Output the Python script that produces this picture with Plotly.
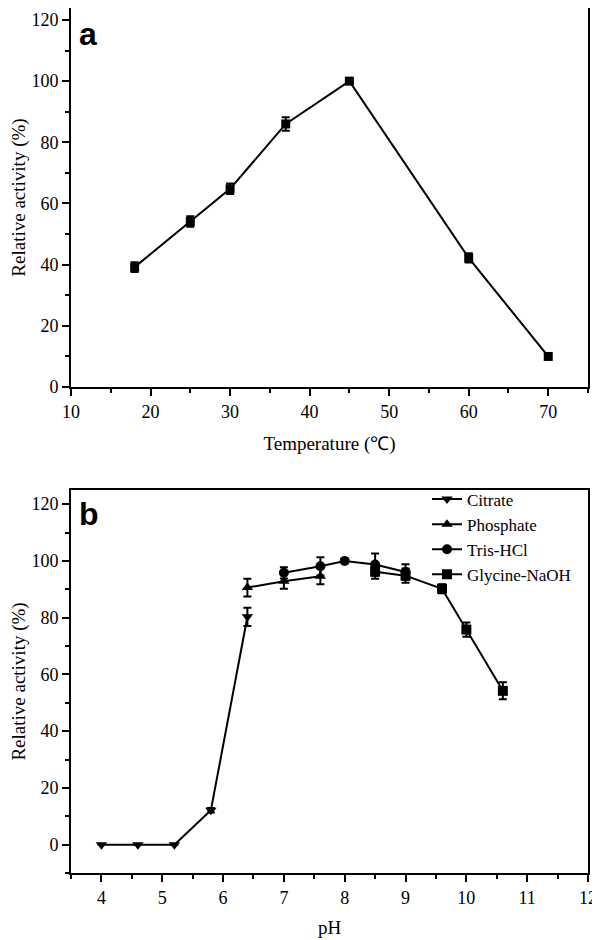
import plotly.graph_objects as go
from plotly.subplots import make_subplots

# panel a: temperature
temp_x = [18, 25, 30, 37, 45, 60, 70]
temp_y = [39.2, 54.1, 64.8, 86.0, 100.0, 42.2, 10.0]
temp_err = [1.6, 1.7, 1.7, 2.2, 0.5, 1.5, 0.6]

# panel b: pH, four buffers
citrate_x = [4, 4.6, 5.2, 5.8, 6.4]
citrate_y = [0, 0, 0, 12.1, 80.3]
citrate_err = [0, 0, 0, 0.8, 3.2]

phos_x = [6.4, 7, 7.6]
phos_y = [90.6, 92.8, 94.6]
phos_err = [3.1, 2.6, 2.8]

tris_x = [7, 7.6, 8, 8.5, 9]
tris_y = [95.8, 98.1, 100.0, 98.7, 96.1]
tris_err = [2.0, 3.2, 0.5, 3.9, 2.7]

gly_x = [8.5, 9, 9.6, 10, 10.6]
gly_y = [96.2, 94.8, 90.2, 75.8, 54.2]
gly_err = [2.5, 2.5, 1.6, 2.5, 3.0]

serif = "Liberation Serif"

# the page body adds an 8px margin, so the figure is a little smaller than the window
fig = make_subplots(rows=2, cols=1)

def err(vals):
    return dict(type="data", array=vals, visible=True, color="black", thickness=2, width=4)

fig.add_trace(go.Scatter(x=temp_x, y=temp_y, mode="lines+markers", error_y=err(temp_err),
                         line=dict(color="black", width=2),
                         marker=dict(symbol="square", size=9, color="black"),
                         showlegend=False), row=1, col=1)

series = [
    ("Citrate", citrate_x, citrate_y, citrate_err, "triangle-down"),
    ("Phosphate", phos_x, phos_y, phos_err, "triangle-up"),
    ("Tris-HCl", tris_x, tris_y, tris_err, "circle"),
    ("Glycine-NaOH", gly_x, gly_y, gly_err, "square"),
]
for name, xs, ys, es, sym in series:
    fig.add_trace(go.Scatter(x=xs, y=ys, mode="lines+markers", name=name, error_y=err(es),
                             line=dict(color="black", width=2),
                             marker=dict(symbol=sym, size=10, color="black")), row=2, col=1)

axis_style = dict(showline=True, linecolor="black", linewidth=2, mirror=True,
                  ticks="outside", ticklen=7, tickwidth=2, tickcolor="black",
                  showgrid=False, zeroline=False, automargin=False,
                  tickfont=dict(family=serif, size=18, color="black"))
minor = dict(ticks="outside", ticklen=4, tickwidth=2, tickcolor="black", showgrid=False)

fig.update_xaxes(**axis_style)
fig.update_yaxes(**axis_style)

title_font = dict(family=serif, size=19, color="black")
fig.update_xaxes(range=[10, 75], dtick=10, tick0=10, minor=dict(dtick=5, **minor),
                 title=dict(text="Temperature (℃)", font=title_font, standoff=16),
                 row=1, col=1)
fig.update_yaxes(range=[0, 123.9], dtick=20, domain=[0.5618, 1], minor=dict(dtick=10, **minor),
                 title=dict(text="Relative activity (%)", font=title_font, standoff=12),
                 row=1, col=1)
fig.update_xaxes(range=[3.5, 12], dtick=1, tick0=4, minor=dict(dtick=0.5, **minor),
                 title=dict(text="pH", font=title_font, standoff=14),
                 row=2, col=1)
fig.update_yaxes(range=[-10, 125], dtick=20, tick0=0, domain=[0, 0.4428], minor=dict(dtick=10, **minor),
                 title=dict(text="Relative activity (%)", font=title_font, standoff=12),
                 row=2, col=1)

fig.add_annotation(text="<b>a</b>", xref="x domain", yref="y domain", x=0.012, y=0.985,
                   xanchor="left", yanchor="top", showarrow=False,
                   font=dict(family="Liberation Sans", size=32, color="black"))
fig.add_annotation(text="<b>b</b>", xref="x2 domain", yref="y2 domain", x=0.012, y=0.99,
                   xanchor="left", yanchor="top", showarrow=False,
                   font=dict(family="Liberation Sans", size=32, color="black"))

fig.update_layout(
    width=592, height=932,
    margin=dict(l=63, r=12, t=0, b=67),
    plot_bgcolor="white", paper_bgcolor="white",
    legend=dict(x=0.6886, y=0.4526, xanchor="left", yanchor="top",
                font=dict(family=serif, size=17, color="black"),
                bgcolor="rgba(0,0,0,0)", itemwidth=30, tracegroupgap=0),
)

fig.write_html("out.html")
